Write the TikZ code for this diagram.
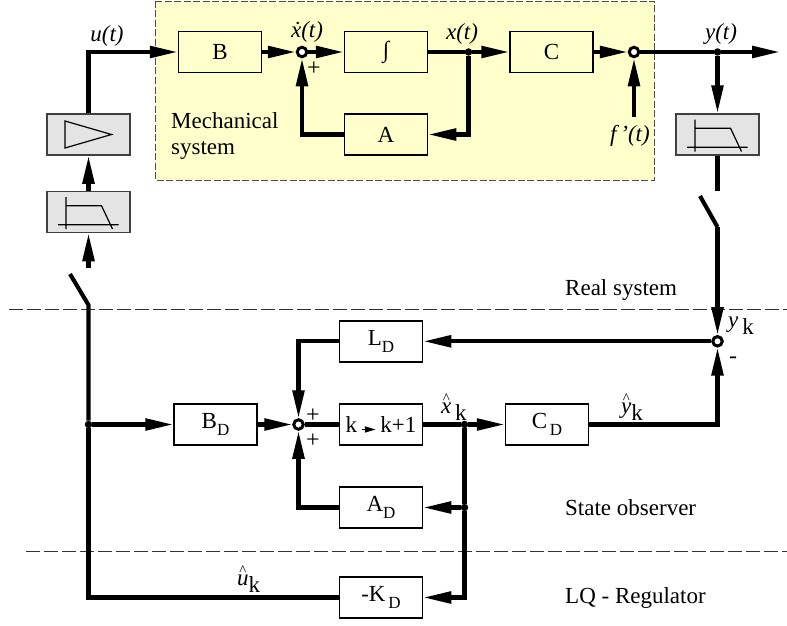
\documentclass[tikz,border=0pt]{standalone}
\usepackage{fontspec}
\setmainfont{Liberation Serif}
\usepackage{amsmath, amssymb}
\usetikzlibrary{arrows.meta,shapes,calc}
\definecolor{mechyellow}{HTML}{FFFFCC}
\definecolor{filtergray}{HTML}{E4E4E4}
\newcommand{\lowidx}[1]{\raisebox{-0.32em}{\fontsize{17}{17}\selectfont #1}}
\newcommand{\lowk}{\raisebox{-0.32em}{k}}
\newcommand{\hatted}[1]{\shortstack[c]{\fontsize{15}{6}\selectfont\^{}\\[-4pt]\textit{#1}}}
\newcommand{\stepmark}{\tikz[baseline=-3pt]\draw[line width=1.6pt,-{Triangle[length=11pt,width=6pt]}] (0,0) -- (14pt,0);}
\tikzset{
  blockbox/.style={draw,line width=1.5pt,minimum width=83pt,minimum height=41pt,inner sep=0pt,font=\fontsize{23}{24}\selectfont},
  filterbox/.style={blockbox,draw=black!75,fill=filtergray},
  sumdot/.style={circle,draw,fill=white,line width=3pt,minimum size=9.5pt,inner sep=0pt},
  joint/.style={circle,fill,minimum size=7.5pt,inner sep=0pt},
  sig/.style={line width=4.1pt},
  sigarrow/.style={sig,-{Triangle[length=28pt,width=11.5pt]}},
  icon/.style={line width=1.2pt},
  txt/.style={font=\fontsize{23}{26}\selectfont,inner sep=0pt},
  itxt/.style={font=\fontsize{23}{26}\selectfont\itshape,inner sep=0pt},
  sign/.style={font=\fontsize{24}{24}\selectfont,inner sep=0pt},
  sepline/.style={draw=black!80,line width=0.9pt,dash pattern=on 14pt off 4pt}
}
\begin{document}
\begin{tikzpicture}[x=1pt,y=-1pt]
  \useasboundingbox (0,0) rectangle (787,626);
  \draw[draw=black!70,fill=mechyellow,line width=0.9pt,dash pattern=on 7pt off 2.5pt] (155,1) rectangle (654,180);
  \draw[sepline] (9,309.5) -- (787,309.5);
  \draw[sepline] (26,551) -- (787,551);

  % mechanical system
  \node[blockbox] (B) at (220,52) {B};
  \node[blockbox] (Int) at (386,52) {∫};
  \node[blockbox] (A) at (386,134.5) {A};
  \node[blockbox] (C) at (551.5,52) {C};
  \node[sumdot] (sumx) at (302,52) {};
  \node[sumdot] (sumy) at (634,52) {};
  \node[joint] (jx) at (468.5,52) {};
  \node[joint] (jy) at (717.5,52) {};
  \coordinate (yout) at (780,52);
  \coordinate (fin) at (634,117);

  % sampling path
  \node[filterbox] (amp) at (88.5,134.5) {};
  \node[filterbox] (fltL) at (88.5,212) {};
  \node[filterbox] (fltR) at (717.5,134.5) {};
  \coordinate (fltLin) at (88.5,268);
  \coordinate (swLa) at (70,274);
  \coordinate (swLb) at (88.5,305);
  \coordinate (fltRout) at (717.5,191);
  \coordinate (swRa) at (700,196);
  \coordinate (swRb) at (717.5,227);

  % observer
  \node[blockbox] (LD) at (381,341.3) {L\lowidx{D}};
  \node[blockbox] (BD) at (215.5,424.5) {B\lowidx{D}};
  \node[blockbox] (step) at (381,424.5) {k\,\stepmark\,k+1};
  \node[blockbox] (AD) at (381,507.5) {A\lowidx{D}};
  \node[blockbox] (KD) at (381,597.5) {-K\lowidx{\,D}};
  \node[blockbox] (CD) at (547,424.5) {C\lowidx{\,D}};
  \node[sumdot] (sumobs) at (298.5,424.5) {};
  \node[sumdot] (sumk) at (717.5,341.3) {};
  \node[joint] (ju) at (88.5,424.5) {};
  \node[joint] (jh) at (464.5,424.5) {};
  \node[joint] (ja) at (464.5,507.5) {};

  \draw[sigarrow] (amp) |- (B);
  \draw[sigarrow] (B) -- (sumx);
  \draw[sigarrow] (sumx) -- (Int);
  \draw[sig] (Int) -- (jx);
  \draw[sigarrow] (jx) -- (C);
  \draw[sigarrow] (jx) |- (A);
  \draw[sigarrow] (A) -| (sumx);
  \draw[sigarrow] (C) -- (sumy);
  \draw[sigarrow] (fin) -- (sumy);
  \draw[sig] (sumy) -- (jy);
  \draw[sigarrow] (jy) -- (yout);
  \draw[sigarrow] (jy) -- (fltR);
  \draw[sig] (fltR) -- (fltRout);
  \draw[sig] (swRa) -- (swRb);
  \draw[sigarrow] (swRb) -- (sumk);
  \draw[sigarrow] (fltL) -- (amp);
  \draw[sigarrow] (fltLin) -- (fltL);
  \draw[sig] (swLa) -- (swLb) -- (ju);
  \draw[sig] (ju) |- (KD);
  \draw[sigarrow] (ju) -- (BD);
  \draw[sigarrow] (BD) -- (sumobs);
  \draw[sig] (sumobs) -- (step);
  \draw[sigarrow] (LD) -| (sumobs);
  \draw[sigarrow] (AD) -| (sumobs);
  \draw[sigarrow] (sumk) -- (LD);
  \draw[sig] (step) -- (jh);
  \draw[sigarrow] (jh) -- (CD);
  \draw[sig] (jh) -- (ja);
  \draw[sigarrow] (ja) -- (AD);
  \draw[sigarrow] (ja) |- (KD);
  \draw[sigarrow] (CD) -| (sumk);

  % icons
  \draw[icon,shift={(amp.center)}] (-23.5,-13.5) -- (23,0) -- (-23.5,13.5) -- cycle;
  \foreach \flt in {fltL,fltR}
    \draw[icon,shift={(\flt.center)}] (-22.5,-15) -- (-22.5,17) (-30.5,12.7) -- (30,12.7)
      (-22.5,-6.3) -- (13,-6.3) -- (24,17);

  % labels
  \node[itxt] (lu) at (107,36) {u(t)};
  \node[itxt] (lxd) at (307,32) {\.{x}(t)};
  \node[itxt] (lx) at (462,34) {x(t)};
  \node[itxt] (ly) at (721,34) {y(t)};
  \node[itxt] (lf) at (630,136) {f\,'(t)};
  \node[sign] (plusx) at (314,69) {+};
  \node[sign] (plusa) at (313,416) {+};
  \node[sign] (plusb) at (313,441) {+};
  \node[sign] (minus) at (733,360) {-};
  \node[txt,anchor=west,align=left] (lmech) at (171,136.5) {Mechanical\\system};
  \node[txt,anchor=west] (lreal) at (565,290) {Real system};
  \node[txt,anchor=west] (lobs) at (565,507.5) {State observer};
  \node[txt,anchor=west] (llq) at (565,597.5) {LQ - Regulator};
  \node[txt,anchor=west] (lyk) at (728,326) {\textit{y}\,\lowk};
  \node[txt,anchor=base west] (luk) at (237,585) {\hatted{u}\lowk};
  \node[txt,anchor=base west] (lxk) at (441,413) {\hatted{x}\,\lowk};
  \node[txt,anchor=base west] (lyh) at (621,413) {\hatted{y}\lowk};
\end{tikzpicture}
\end{document}
